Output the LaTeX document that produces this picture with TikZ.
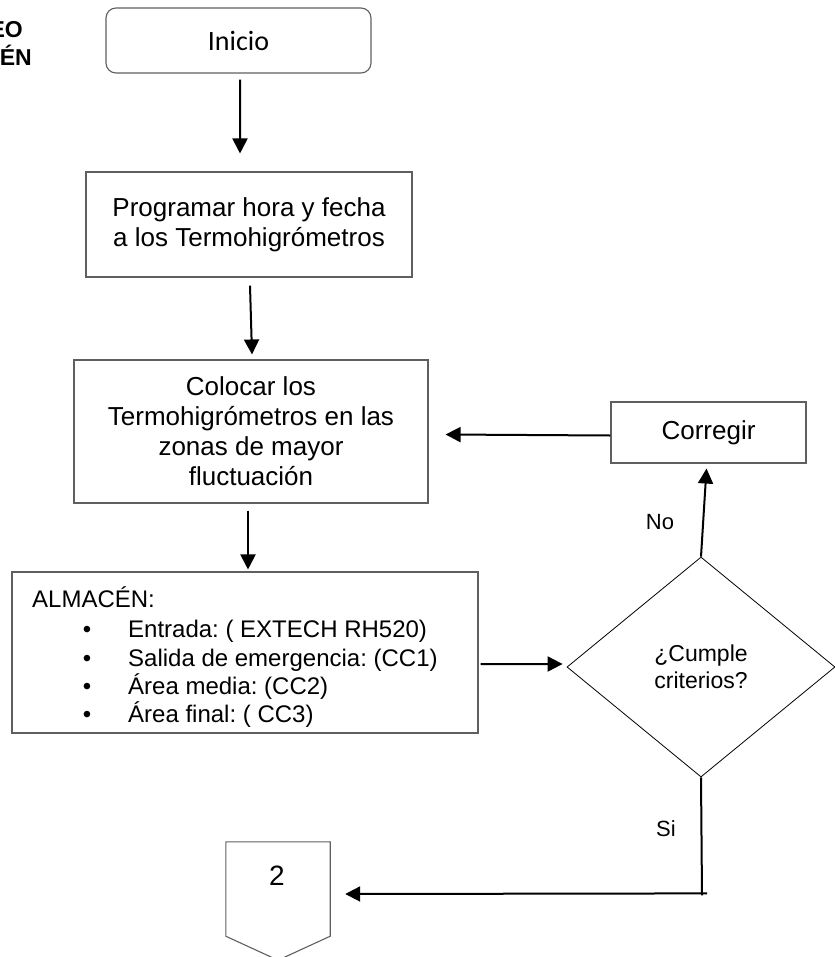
\documentclass[tikz,border=0pt]{standalone}
\usepackage{fontspec}
\setmainfont{Liberation Sans}
\newfontfamily\calibri{Carlito}
\usetikzlibrary{arrows.meta,shapes.geometric,calc}
\definecolor{boxgray}{RGB}{95,95,95}
\frenchspacing
\begin{document}
\begin{tikzpicture}[x=1bp,y=-1bp,
  box/.style={draw=boxgray,line width=1.1bp,rectangle,inner sep=0pt,align=center,
              font=\fontsize{26bp}{30bp}\selectfont},
  arr/.style={line width=2bp,-{Triangle[length=15bp,width=15bp]}},
  plain/.style={line width=2bp},
  lbl/.style={font=\fontsize{22bp}{26bp}\selectfont,inner sep=0pt},
  listtxt/.style={font=\fontsize{24bp}{28bp}\selectfont,inner sep=0pt,anchor=base west},
  bul/.style={font=\fontsize{24bp}{28bp}\selectfont,inner sep=0pt,anchor=base},
  ttl/.style={font=\bfseries\fontsize{23bp}{27bp}\selectfont,inner sep=0pt,anchor=base east}]
\useasboundingbox (0,0) rectangle (835,957);

% title fragments at the left edge
\node[ttl] (ttla) at (23,37) {EO};
\node[ttl] (ttlb) at (32,65) {ÉN};

% process boxes
\node[draw=boxgray,line width=1.1bp,rounded corners=10bp,minimum width=265bp,minimum height=65bp,
      inner sep=0pt,font=\calibri\fontsize{28bp}{32bp}\selectfont] (ini) at (238.5,40.5) {Inicio};
\node[box,minimum width=326bp,minimum height=105bp] (prog) at (249,224.5)
  {Programar hora y fecha\\a los Termohigrómetros};
\node[box,minimum width=354bp,minimum height=143bp] (col) at (251,431.5)
  {Colocar los\\Termohigrómetros en las\\zonas de mayor\\fluctuación};
\node[box,minimum width=466bp,minimum height=161bp] (alm) at (245,652.5) {};
\node[box,minimum width=195bp,minimum height=61bp] (cor) at (708.5,432.5) {Corregir};

% list inside the storage box
\node[listtxt] (almt) at (32,607) {ALMACÉN:};
\node[bul] (b1) at (87,637) {\textbullet};
\node[bul] (b2) at (87,666) {\textbullet};
\node[bul] (b3) at (87,694) {\textbullet};
\node[bul] (b4) at (87,722) {\textbullet};
\node[listtxt] (l1) at (128,637) {Entrada: ( EXTECH RH520)};
\node[listtxt] (l2) at (128,666) {Salida de emergencia: (CC1)};
\node[listtxt] (l3) at (128,694) {Área media: (CC2)};
\node[listtxt] (l4) at (128,722) {Área final: ( CC3)};

% decision
\node[draw,diamond,line width=0.8bp,minimum width=268bp,minimum height=220bp,inner sep=0pt,
      align=center,font=\fontsize{23bp}{27bp}\selectfont] (dia) at (701,667) {¿Cumple\\criterios?};

% off-page connector
\node[minimum width=104bp,minimum height=94bp,inner sep=0pt] (conn) at (278,889) {};
\draw[draw=boxgray,line width=1.1bp] (conn.north west) -- (conn.north east) -- (conn.south east)
  -- ($(conn.south)+(0,24)$) -- (conn.south west) -- cycle;
\node[font=\fontsize{28bp}{32bp}\selectfont,inner sep=0pt] (num) at (277,876) {2};

% connectors
\draw[arr] ($(ini.south)+(1.5,6)$) -- ($(prog.north)+(-9,-18)$);
\draw[arr] ($(prog.south)+(1,8)$) -- ($(col.north)+(1,-5)$);
\draw[arr] ($(col.south)+(-3,7)$) -- ($(alm.north)+(3,-2)$);
\draw[arr] ($(alm.east)+(2,11.5)$) -- ($(dia.west)+(-4,-3)$);
\draw[arr] (dia.north) -- ($(cor.south)+(-2,5)$);
\draw[arr] ($(cor.west)+(0,3)$) -- ($(col.east)+(17,3)$);
\coordinate (turn) at ($(dia.south)+(1,118)$);
\draw[plain] (dia.south) -- (turn);
\draw[arr] ($(turn)+(5,-2)$) -- ($(conn.east)+(15,5)$);

% branch labels
\node[lbl] (no) at (660,522) {No};
\node[lbl] (si) at (666,829) {Si};
\end{tikzpicture}
\end{document}
